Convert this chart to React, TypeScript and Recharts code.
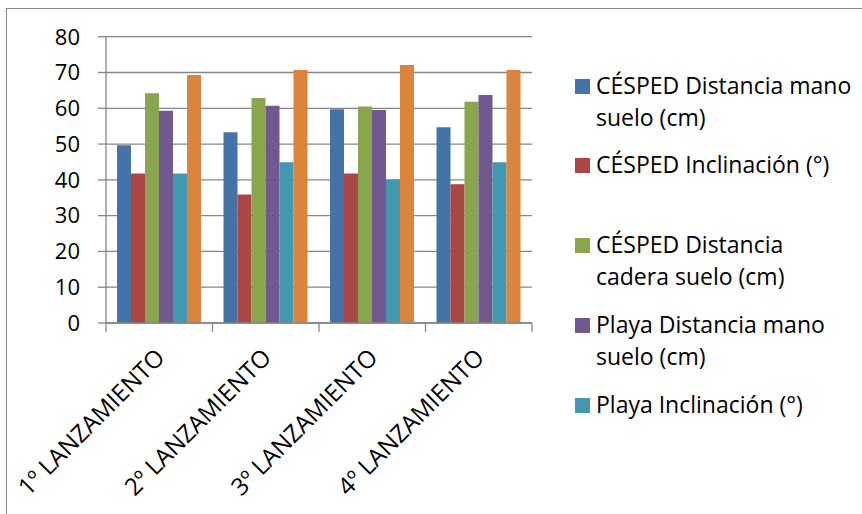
import { BarChart, Bar, XAxis, YAxis, CartesianGrid } from 'recharts';

const categories = ['1º LANZAMIENTO', '2º LANZAMIENTO', '3º LANZAMIENTO', '4º LANZAMIENTO'];

const cespedManoSuelo = [49.7, 53.3, 59.7, 54.7];
const cespedInclinacion = [41.8, 35.9, 41.8, 38.8];
const cespedCaderaSuelo = [64.2, 62.9, 60.5, 61.8];
const playaManoSuelo = [59.3, 60.7, 59.5, 63.7];
const playaInclinacion = [41.8, 44.9, 40.1, 44.9];
const playaCaderaSuelo = [69.3, 70.7, 72.1, 70.7];

const yTicks = [0, 10, 20, 30, 40, 50, 60, 70, 80];

const series = [
  { key: 's1', name: 'CÉSPED Distancia mano suelo (cm)', values: cespedManoSuelo, color: '#4572A7', legend: ['CÉSPED Distancia mano', 'suelo (cm)'] },
  { key: 's2', name: 'CÉSPED Inclinación (°)', values: cespedInclinacion, color: '#AA4643', legend: ['CÉSPED Inclinación (°)'] },
  { key: 's3', name: 'CÉSPED Distancia cadera suelo (cm)', values: cespedCaderaSuelo, color: '#89A54E', legend: ['CÉSPED Distancia', 'cadera suelo (cm)'] },
  { key: 's4', name: 'Playa Distancia mano suelo (cm)', values: playaManoSuelo, color: '#71588F', legend: ['Playa Distancia mano', 'suelo (cm)'] },
  { key: 's5', name: 'Playa Inclinación (°)', values: playaInclinacion, color: '#4198AF', legend: ['Playa Inclinación (°)'] },
  { key: 's6', name: 'Playa Distancia cadera suelo (cm)', values: playaCaderaSuelo, color: '#DB843D', legend: null },
];

const data = categories.map((cat, i) => {
  const row: Record<string, any> = { cat };
  series.forEach((s) => (row[s.key] = s.values[i]));
  return row;
});

const FONT = '"Open Sans", sans-serif';
const GRID = '#868686';

// tick marks sit on category borders, labels rotated -45deg under the centre
const CategoryTick = ({ x, y, payload, index, visibleTicksCount }: any) => {
  const half = payload.offset || 0;
  const ax = x + 7;
  const ay = y + 36;
  return (
    <g>
      <line x1={x - half} x2={x - half} y1={y} y2={y + 9} stroke={GRID} strokeWidth={1.3} />
      {index === visibleTicksCount - 1 && (
        <line x1={x + half} x2={x + half} y1={y} y2={y + 9} stroke={GRID} strokeWidth={1.3} />
      )}
      <text
        x={ax}
        y={ay}
        textAnchor="end"
        transform={`rotate(-45, ${ax}, ${ay})`}
        fill="#000"
        fontSize={24}
        fontFamily={FONT}
      >
        {payload.value}
      </text>
    </g>
  );
};

const legendTops = [68.6, 147.8, 228.4, 308.4, 388.4];

export default function App() {
  const legendItems = series.filter((s) => s.legend);
  return (
    <div style={{ position: 'fixed', left: 0, top: 0, width: 862, height: 514, overflow: 'hidden', background: '#fff' }}>
      {/* outer chart frame, only its top and left edges are in view */}
      <div style={{ position: 'absolute', left: 6, top: 8, width: 900, height: 1, background: GRID }} />
      <div style={{ position: 'absolute', left: 6, top: 8, width: 1, height: 560, background: GRID }} />
      <div style={{ position: 'absolute', left: 0, top: 0 }}>
        <BarChart
          width={862}
          height={514}
          data={data}
          margin={{ top: 36.7, right: 330, bottom: 0, left: 0 }}
          barCategoryGap={11}
          barGap={0}
        >
          <CartesianGrid vertical={false} stroke={GRID} strokeWidth={1.3} />
          <XAxis
            dataKey="cat"
            interval={0}
            height={191}
            tickSize={0}
            tickMargin={0}
            tickLine={false}
            axisLine={{ stroke: GRID, strokeWidth: 1.3 }}
            tick={<CategoryTick />}
          />
          <YAxis
            domain={[0, 80]}
            ticks={yTicks}
            width={106}
            tickSize={8}
            tickMargin={18}
            interval={0}
            axisLine={{ stroke: GRID, strokeWidth: 1.3 }}
            tickLine={{ stroke: GRID, strokeWidth: 1.3 }}
            tick={{ fill: '#000', fontSize: 22, fontFamily: FONT }}
          />
          {series.map((s) => (
            <Bar key={s.key} dataKey={s.key} name={s.name} fill={s.color} isAnimationActive={false} />
          ))}
        </BarChart>
      </div>
      {legendItems.map((s, i) => (
        <div
          key={s.key}
          style={{
            position: 'absolute',
            left: 575,
            top: legendTops[i],
            fontFamily: FONT,
            fontSize: 23,
            lineHeight: '32px',
            color: '#000',
            whiteSpace: 'nowrap',
          }}
        >
          <span
            style={{
              position: 'absolute',
              left: 0,
              top: 10,
              width: 15,
              height: 15,
              background: s.color,
            }}
          />
          <div style={{ marginLeft: 21 }}>
            {s.legend!.map((line, j) => (
              <div key={j}>{line}</div>
            ))}
          </div>
        </div>
      ))}
    </div>
  );
}
